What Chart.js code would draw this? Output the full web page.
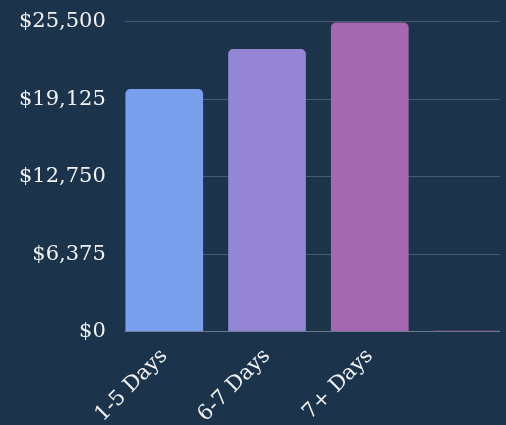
<!DOCTYPE html>
<html>
<head>
<meta charset="utf-8">
<script src="https://cdn.jsdelivr.net/npm/chart.js@4.4.0/dist/chart.umd.min.js"></script>
<style>
  html, body { margin: 0; padding: 0; background: #1b344c; }
  #wrap { width: 506px; height: 425px; overflow: hidden; position: relative; }
  canvas { display: block; margin-top: -10px; }
</style>
</head>
<body>
<div id="wrap"><canvas id="c" width="500" height="441"></canvas></div>
<script>
const labels = ['1-5 Days', '6-7 Days', '7+ Days', ''];
const revenue = [19950, 23250, 25420, 90];
const barColors = ['#7a9fec', '#9486d4', '#a468b0', '#b0609a'];
const yTicks = [0, 6375, 12750, 19125, 25500];

const serif = "'DejaVu Serif', 'Liberation Serif', serif";
const txt = '#f2f2f2';
const grid = 'rgba(255,255,255,0.2)';

// bars sit on an index axis; the view starts a bit before the first slot and cuts the last one
const points = revenue.map((v, i) => ({ x: i, y: v }));

const ctx = document.getElementById('c').getContext('2d');
const chart = new Chart(ctx, {
    type: 'bar',
    data: {
        datasets: [{
            data: points,
            backgroundColor: barColors,
            borderWidth: 0,
            borderRadius: 5,
            barPercentage: 0.84,
            categoryPercentage: 0.9
        }]
    },
    options: {
        responsive: false,
        animation: false,
        layout: { padding: { left: 0, top: 0, right: 0, bottom: 0 } },
        plugins: { legend: { display: false }, tooltip: { enabled: false } },
        scales: {
            x: {
                type: 'linear',
                offset: false,
                min: -0.3835,
                max: 3.267,
                grid: { display: false },
                border: { display: true, color: grid, width: 1 },
                afterBuildTicks: (axis) => { axis.ticks = labels.map((l, i) => ({ value: i })); },
                ticks: {
                    color: txt,
                    font: { family: serif, size: 21 },
                    minRotation: 45,
                    maxRotation: 45,
                    padding: 4,
                    callback: (v) => labels[v] ?? ''
                }
            },
            y: {
                min: yTicks[0],
                max: yTicks[yTicks.length - 1],
                grid: { color: grid, drawTicks: false },
                border: { display: false },
                afterBuildTicks: (axis) => { axis.ticks = yTicks.map(v => ({ value: v })); },
                ticks: {
                    color: txt,
                    font: { family: serif, size: 21 },
                    padding: 19,
                    callback: (v) => '$' + Number(v).toLocaleString('en-US')
                }
            }
        }
    }
});
</script>
</body>
</html>
